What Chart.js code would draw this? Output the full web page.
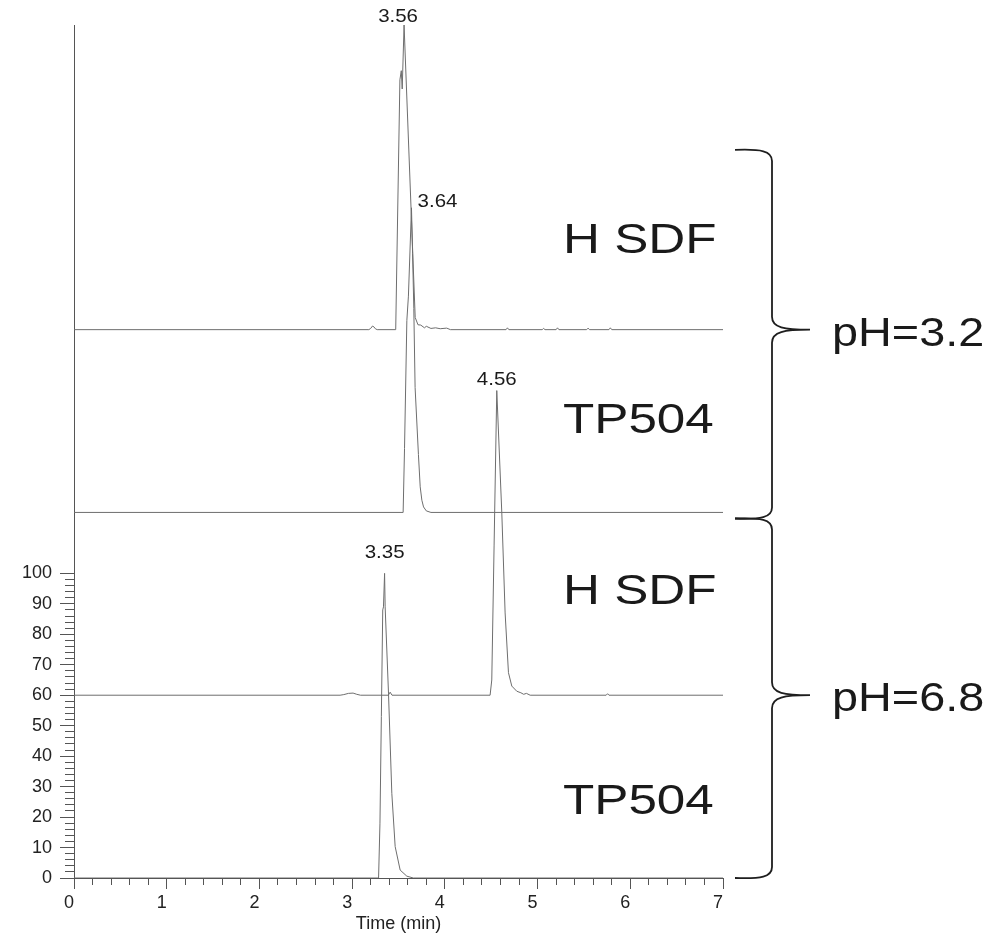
<!DOCTYPE html>
<html>
<head>
<meta charset="utf-8">
<title>Chromatograms</title>
<script src="https://cdn.jsdelivr.net/npm/chart.js@4.4.0/dist/chart.umd.min.js"></script>
<style>
  html, body { margin: 0; padding: 0; background: #fff; }
</style>
</head>
<body>
<canvas id="chrom" width="994" height="937"></canvas>
<script>
// retention time (min) / response, each trace lifted by its baseline
var hsdf32Time = [0, 3.18, 3.20, 3.22, 3.235, 3.25, 3.27, 3.47, 3.515, 3.53, 3.54, 3.56, 3.68, 3.71, 3.74, 3.78, 3.80, 3.85, 3.90, 3.95, 4.02, 4.06,
                  4.66, 4.675, 4.69, 5.05, 5.065, 5.08, 5.20, 5.215, 5.23, 5.53, 5.545, 5.56, 5.77, 5.785, 5.80, 7];
var hsdf32Val  = [180, 180, 180.4, 181.2, 180.9, 180.3, 180, 180, 262, 265, 259, 280, 184, 181.6, 181.5, 180.6, 181.1, 180.4, 180.6, 180.3, 180.5, 180,
                  180, 180.6, 180, 180, 180.4, 180, 180, 180.6, 180, 180, 180.5, 180, 180, 180.6, 180, 180];

var tp32Time = [0, 3.55, 3.565, 3.59, 3.607, 3.64, 3.652, 3.665, 3.679, 3.715, 3.734, 3.752, 3.77, 3.80, 3.85, 7];
var tp32Val  = [120, 120, 141, 183, 191, 220, 205, 187, 161, 139, 128.4, 124, 121.8, 120.5, 120, 120];

var hsdf68Time = [0, 2.87, 2.91, 2.96, 3.01, 3.05, 3.09, 3.39, 3.41, 3.43, 4.488, 4.506, 4.531, 4.56, 4.614, 4.65, 4.686, 4.722, 4.776, 4.82, 4.85, 4.88, 4.92, 5.74, 5.755, 5.77, 7];
var hsdf68Val  = [60, 60, 60.2, 60.6, 60.7, 60.3, 60, 60, 61, 60, 60, 65, 109, 160, 120, 87, 67.4, 63, 61.3, 60.8, 60.3, 60.6, 60, 60, 60.5, 60, 60];

var tp68Time = [0, 3.285, 3.30, 3.315, 3.33, 3.338, 3.35, 3.356, 3.392, 3.428, 3.464, 3.518, 3.59, 3.66, 7];
var tp68Val  = [0, 0, 18, 53, 88, 89, 100, 89, 60.7, 27.8, 10.3, 2.6, 0.6, 0, 0];

var traceNames = ['H SDF', 'TP504', 'H SDF', 'TP504'];
var peakTimes = [3.56, 3.64, 4.56, 3.35];
var phLabels = ['pH=3.2', 'pH=6.8'];

var xTicks = [0, 1, 2, 3, 4, 5, 6, 7];
var yTicks = [0, 10, 20, 30, 40, 50, 60, 70, 80, 90, 100];

var series = [[hsdf32Time, hsdf32Val], [tp32Time, tp32Val], [hsdf68Time, hsdf68Val], [tp68Time, tp68Val]];

// name placement (y value of text baseline) and peak label nudges in px
var nameLevel = [205, 146, 90, 21];
var peakShift = [[-6, -3], [26, -1], [0, -6], [0, -15]];
// brace extents in y units
var braceSpan = [[239, 118], [118, 0]];

var FONT = '"Liberation Sans", Arial, sans-serif';
Chart.defaults.font.family = FONT;

function withMinor(major, parts) {
  var out = [];
  for (var i = 0; i < major.length; i++) {
    out.push({value: major[i], big: true});
    if (i < major.length - 1) {
      var step = (major[i + 1] - major[i]) / parts;
      for (var k = 1; k < parts; k++) out.push({value: major[i] + k * step, big: false});
    }
  }
  return out;
}

function pts(t, v) {
  return t.map(function(x, i) { return {x: x, y: v[i]}; });
}

function wideText(ctx, str, x, y, size, sx, align) {
  ctx.save();
  ctx.translate(x, y);
  ctx.scale(sx, 1);
  ctx.font = size + 'px ' + FONT;
  ctx.textAlign = align;
  ctx.textBaseline = 'alphabetic';
  ctx.fillText(str, 0, 0);
  ctx.restore();
}

function brace(ctx, x0, top, mid, bot) {
  var sp = x0 + 37, tip = x0 + 75;
  ctx.beginPath();
  ctx.moveTo(x0, top);
  ctx.bezierCurveTo(x0 + 26, top - 1, sp, top + 1, sp, top + 11);
  ctx.lineTo(sp, mid - 13);
  ctx.bezierCurveTo(sp, mid - 2, sp + 12, mid, tip, mid);
  ctx.bezierCurveTo(sp + 12, mid, sp, mid + 2, sp, mid + 13);
  ctx.lineTo(sp, bot - 11);
  ctx.bezierCurveTo(sp, bot - 1, x0 + 26, bot + 1, x0, bot);
  ctx.stroke();
}

var annotate = {
  id: 'annotate',
  afterDraw: function(chart) {
    var ctx = chart.ctx, xs = chart.scales.x, ys = chart.scales.y, area = chart.chartArea;
    ctx.save();
    ctx.fillStyle = '#1a1a1a';

    for (var i = 0; i < peakTimes.length; i++) {
      var top = Math.max.apply(null, series[i][1]);
      var px = xs.getPixelForValue(peakTimes[i]) + peakShift[i][0];
      var py = ys.getPixelForValue(top) + peakShift[i][1];
      wideText(ctx, peakTimes[i].toFixed(2), px, py, 17.5, 1.17, 'center');
    }

    for (var j = 0; j < traceNames.length; j++) {
      wideText(ctx, traceNames[j], area.right - 160, ys.getPixelForValue(nameLevel[j]), 43, 1.19, 'left');
    }

    ctx.strokeStyle = '#1e1e1e';
    ctx.lineWidth = 1.8;
    var tips = [hsdf32Val[0], hsdf68Val[0]];
    for (var g = 0; g < phLabels.length; g++) {
      var mid = ys.getPixelForValue(tips[g]);
      brace(ctx, area.right + 12, ys.getPixelForValue(braceSpan[g][0]), mid, ys.getPixelForValue(braceSpan[g][1]));
      wideText(ctx, phLabels[g], area.right + 109, mid + 16, 40, 1.17, 'left');
    }
    ctx.restore();
  }
};

function tickLabel(v, i, t) { return t[i].big ? String(v) : ''; }

new Chart(document.getElementById('chrom'), {
  type: 'line',
  data: {
    datasets: series.map(function(s, i) {
      return {
        label: traceNames[i],
        data: pts(s[0], s[1]),
        borderColor: '#6e6e6e',
        borderWidth: 1,
        pointRadius: 0,
        tension: 0,
        fill: false
      };
    })
  },
  options: {
    responsive: false,
    animation: false,
    layout: { padding: { top: 25, right: 271, left: 0, bottom: 0 } },
    plugins: { legend: { display: false }, tooltip: { enabled: false } },
    scales: {
      x: {
        type: 'linear', min: 0, max: 7,
        afterBuildTicks: function(s) { s.ticks = withMinor(xTicks, 5); },
        afterFit: function(s) { s.height = 59; },
        ticks: { autoSkip: false, maxRotation: 0, labelOffset: -5, padding: 3, color: '#222', font: { size: 18 }, callback: tickLabel },
        grid: {
          drawOnChartArea: false, tickLength: 11, tickColor: '#555',
          tickBorderDash: function(c) { return c.tick && c.tick.big ? [] : [6, 100]; }
        },
        border: { color: '#555', width: 1 },
        title: { display: true, text: 'Time (min)', color: '#222', font: { size: 18 }, padding: { top: 0, bottom: 2 } }
      },
      y: {
        type: 'linear', min: 0, max: 280,
        afterBuildTicks: function(s) { s.ticks = withMinor(yTicks, 5); },
        afterFit: function(s) { s.width = 74; },
        ticks: { autoSkip: false, padding: 8, color: '#222', font: { size: 18 }, callback: tickLabel },
        grid: {
          drawOnChartArea: false, tickLength: 14, tickColor: '#555',
          tickBorderDash: function(c) { return c.tick && c.tick.big ? [] : [0, 5, 9, 100]; }
        },
        border: { color: '#555', width: 1 }
      }
    }
  },
  plugins: [annotate]
});
</script>
</body>
</html>
